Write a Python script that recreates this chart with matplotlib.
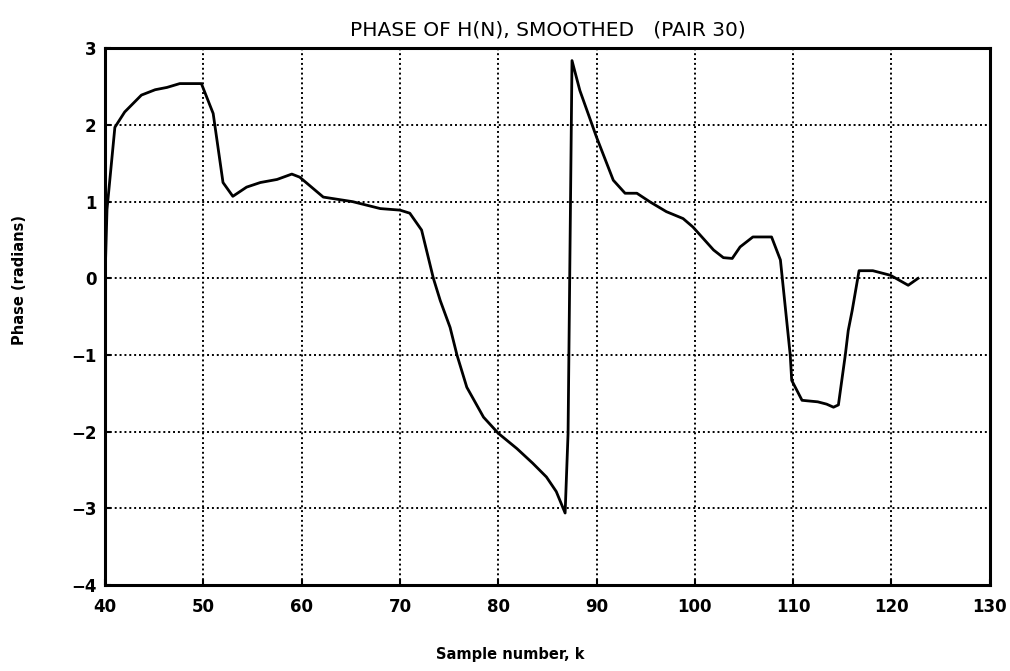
import matplotlib.pyplot as plt
import numpy as np

# sample number k and smoothed phase
k = [40.0, 40.2, 41.0, 42.0, 43.7, 45.1, 46.3, 47.6, 49.8, 51.0, 52.0, 53.0,
     54.4, 55.8, 57.5, 59.0, 59.8, 62.2, 65.2, 68.0, 70.0, 71.0, 72.2, 73.4,
     74.1, 75.1, 75.8, 76.8, 78.5, 80.0, 81.9, 83.5, 84.9, 85.9, 86.8, 87.1,
     87.5, 88.3, 90.0, 91.7, 92.9, 94.1, 95.4, 97.1, 98.8, 99.8, 101.9, 102.9, 103.8,
     104.6, 105.9, 107.8, 108.7, 109.7, 109.85, 110.9, 112.5, 113.4, 114.1,
     114.6, 115.3, 115.6, 116.0, 116.7, 118.1, 119.9, 121.7, 122.7]
phase = [0.0, 0.9, 1.97, 2.17, 2.39, 2.46, 2.49, 2.54, 2.54, 2.15, 1.25, 1.07,
         1.19, 1.25, 1.29, 1.36, 1.32, 1.06, 1.0, 0.91, 0.89, 0.85, 0.63, 0.0,
         -0.29, -0.64, -1.0, -1.42, -1.81, -2.02, -2.22, -2.41, -2.59, -2.78, -3.06, -2.02,
         2.84, 2.45, 1.84, 1.28, 1.11, 1.11, 1.0, 0.87, 0.78, 0.67, 0.37, 0.27, 0.26,
         0.41, 0.54, 0.54, 0.24, -1.0, -1.33, -1.59, -1.61, -1.64, -1.68,
         -1.65, -1.0, -0.68, -0.42, 0.1, 0.1, 0.04, -0.09, 0.0]

xticks = np.arange(40, 131, 10)
yticks = np.arange(-4, 4, 1)

fig = plt.figure(figsize=(10.1, 6.71), dpi=100)
ax = fig.add_axes([0.104, 0.128, 0.876, 0.8])

ax.plot(k, phase, color='black', linewidth=2.0)

ax.set_xlim(40, 130)
ax.set_ylim(-4, 3)
ax.set_xticks(xticks)
ax.set_yticks(yticks)
ax.set_xticklabels([str(t) for t in xticks], fontsize=12, fontweight='bold')
ax.set_yticklabels([str(t).replace('-', '\u2212') for t in yticks], fontsize=12, fontweight='bold')
ax.tick_params(axis='x', direction='in', length=4, width=1.5, pad=9)
ax.tick_params(axis='y', direction='in', length=4, width=1.5, pad=6)

ax.grid(True, color='black', linestyle=(0, (1, 1.5)), linewidth=1.4)
for s in ax.spines.values():
    s.set_linewidth(2.2)

ax.set_title('PHASE OF H(N), SMOOTHED   (PAIR 30)', fontsize=14.5, pad=9)
fig.text(510 / 1010, 1 - 655 / 671, 'Sample number, k', fontsize=10.5, fontweight='bold',
         ha='center', va='center')
fig.text(20 / 1010, 1 - 280 / 671, 'Phase (radians)', fontsize=10.5, fontweight='bold',
         ha='center', va='center', rotation=90)

fig.savefig('out.png', dpi=100)
